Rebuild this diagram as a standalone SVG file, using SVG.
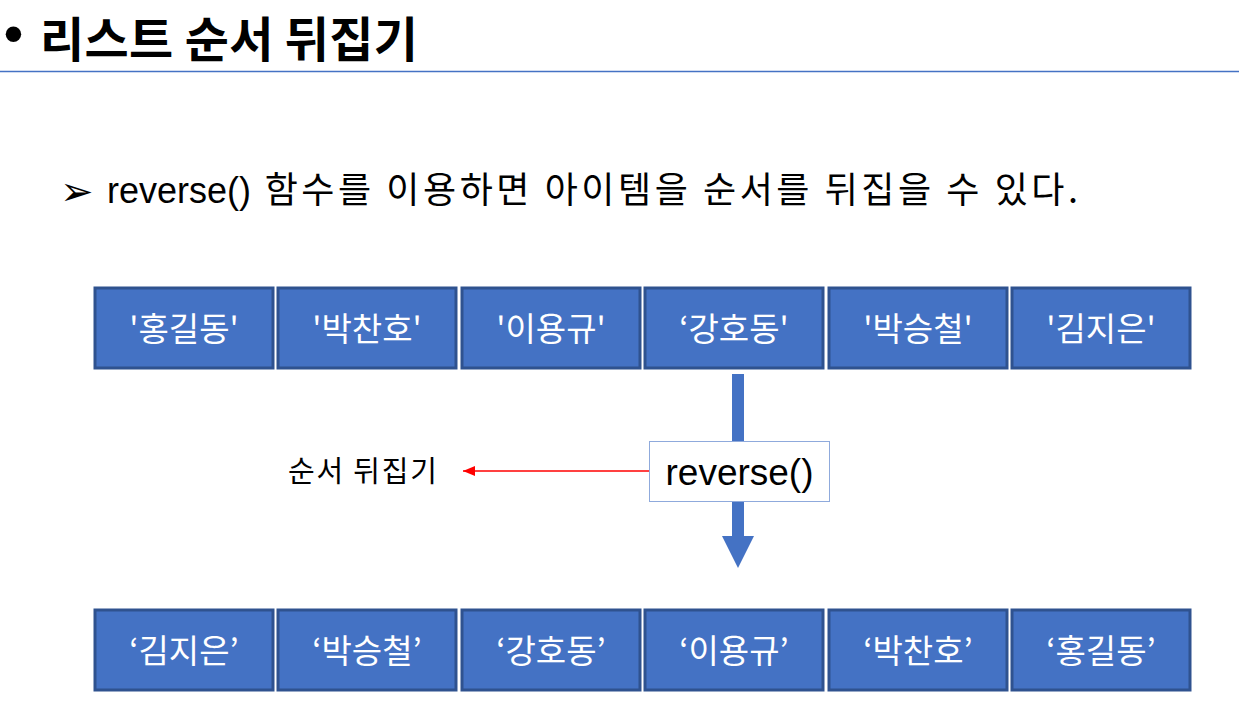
<svg xmlns="http://www.w3.org/2000/svg" width="1239" height="724" viewBox="0 0 1239 724">
<style>
.t{font-family:"Liberation Sans","Noto Sans CJK KR",sans-serif;fill:#000}
.k{font-family:"Noto Sans CJK KR","Liberation Sans",sans-serif}
.box rect{fill:#4472C4;stroke:#2F528F;stroke-width:3}
.box text{font-family:"Noto Sans CJK KR",sans-serif;font-size:33px;fill:#fff;text-anchor:middle}
</style>
<defs>
<marker id="ra" markerWidth="12" markerHeight="10" refX="12" refY="5" orient="auto" markerUnits="userSpaceOnUse">
<path d="M0,0 L12,5 L0,10 Z" fill="#FF0000"/>
</marker>
</defs>
<rect width="1239" height="724" fill="#fff"/>
<g id="title">
<text x="4" y="52" class="t" font-size="54" font-weight="bold">•</text>
<text x="40" y="57" class="k" font-size="48" font-weight="bold" textLength="378" lengthAdjust="spacing">리스트 순서 뒤집기</text>
<line x1="0" y1="71.5" x2="1239" y2="71.5" stroke="#4472C4" stroke-width="1.5"/>
</g>
<g id="subtitle">
<text x="60" y="205" font-family="DejaVu Sans,sans-serif" font-size="40">➢</text>
<text x="107" y="203" class="t" font-size="36">reverse()<tspan class="k" font-size="36" x="253" textLength="825" lengthAdjust="spacing"> 함수를 이용하면 아이템을 순서를 뒤집을 수 있다.</tspan></text>
</g>
<g id="connectors">
<rect x="732" y="374" width="12" height="68" fill="#4472C4"/>
<path d="M732,500 L744,500 L744,536 L754,536 L738,568 L722,536 L732,536 Z" fill="#4472C4"/>
<line x1="649" y1="471" x2="463" y2="471" stroke="#FF0000" stroke-width="1.5" marker-end="url(#ra)"/>
</g>
<g id="reverse">
<rect x="649.5" y="441.5" width="180" height="60" fill="#fff" stroke="#8FAADC" stroke-width="1"/>
<text x="739.5" y="485" class="t" font-size="37" text-anchor="middle">reverse()</text>
</g>
<g id="label">
<text x="288" y="482" class="k" font-size="29" textLength="149" lengthAdjust="spacing">순서 뒤집기</text>
</g>
<g id="top-row" class="box">
<g id="t1"><rect x="95" y="288" width="178" height="80"/><text x="184" y="341">'홍길동'</text></g>
<g id="t2"><rect x="278" y="288" width="178" height="80"/><text x="367" y="341">'박찬호'</text></g>
<g id="t3"><rect x="462" y="288" width="178" height="80"/><text x="551" y="341">'이용규'</text></g>
<g id="t4"><rect x="645" y="288" width="178" height="80"/><text x="734" y="341">‘강호동'</text></g>
<g id="t5"><rect x="829" y="288" width="178" height="80"/><text x="918" y="341">'박승철'</text></g>
<g id="t6"><rect x="1012" y="288" width="178" height="80"/><text x="1101" y="341">'김지은'</text></g>
</g>
<g id="bottom-row" class="box">
<g id="b1"><rect x="95" y="610" width="178" height="80"/><text x="184" y="663">‘김지은’</text></g>
<g id="b2"><rect x="278" y="610" width="178" height="80"/><text x="367" y="663">‘박승철’</text></g>
<g id="b3"><rect x="462" y="610" width="178" height="80"/><text x="551" y="663">‘강호동’</text></g>
<g id="b4"><rect x="645" y="610" width="178" height="80"/><text x="734" y="663">‘이용규’</text></g>
<g id="b5"><rect x="829" y="610" width="178" height="80"/><text x="918" y="663">‘박찬호’</text></g>
<g id="b6"><rect x="1012" y="610" width="178" height="80"/><text x="1101" y="663">‘홍길동’</text></g>
</g>
</svg>
